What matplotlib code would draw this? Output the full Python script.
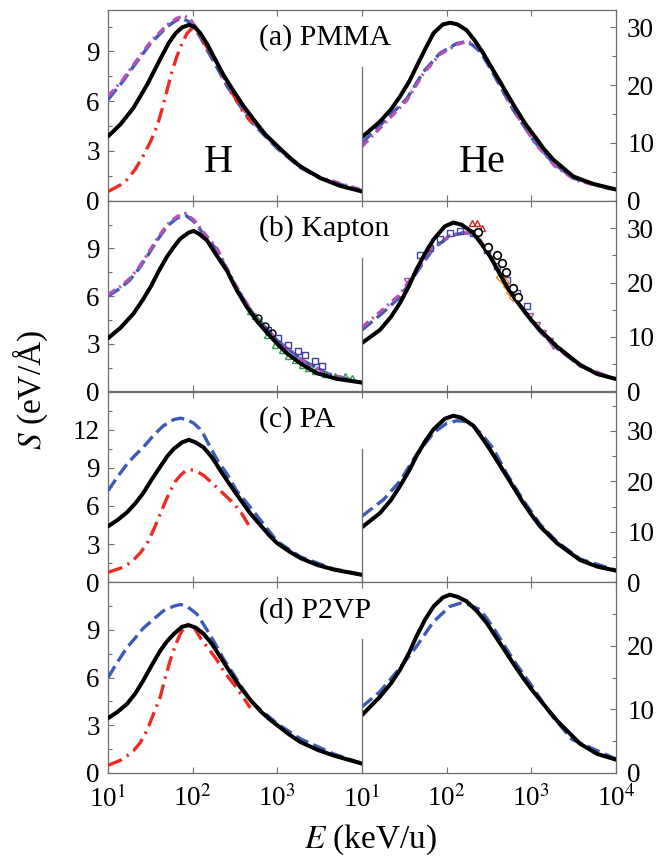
import matplotlib
matplotlib.use("Agg")
import matplotlib.pyplot as plt
from matplotlib.ticker import MultipleLocator, FixedLocator, NullFormatter

plt.rcParams['font.family'] = ['Liberation Serif', 'DejaVu Serif']
plt.rcParams['mathtext.fontset'] = 'stix'

# ---------------- data ----------------
# (a) PMMA, H
aH_black_E = [10, 14, 20, 29, 41, 52, 63, 75, 90, 105, 123, 150, 177, 230, 305, 400, 525, 720, 1000, 1400, 1870, 3220, 5500, 10000]
aH_black_S = [3.88, 4.6, 5.6, 7.0, 8.5, 9.5, 10.1, 10.45, 10.6, 10.5, 10.1, 9.4, 8.7, 7.6, 6.6, 5.7, 4.9, 4.0, 3.3, 2.6, 2.07, 1.37, 0.9, 0.56]
aH_blue_E = [10, 15, 20, 32, 50, 65, 75, 90, 103, 125, 148, 200, 255, 400, 525, 1000, 1870, 3220, 10000]
aH_blue_S = [6.1, 7.2, 8.1, 9.5, 10.5, 10.9, 11.0, 10.8, 10.5, 9.8, 9.1, 7.9, 6.9, 5.4, 4.6, 3.15, 2.0, 1.35, 0.6]
aH_mag_E = [10, 15, 20, 32, 50, 65, 80, 95, 110, 130, 148, 200, 255, 400, 525, 1000, 1870, 3220, 10000]
aH_mag_S = [6.3, 7.3, 8.2, 9.6, 10.6, 11.0, 11.15, 10.9, 10.4, 9.8, 9.3, 8.1, 7.0, 5.5, 4.7, 3.2, 2.05, 1.4, 0.65]
aH_red_E = [10, 14, 17, 21, 26, 32, 38, 44, 50, 57, 65, 75, 86, 98, 110, 123, 150, 194, 240, 279, 400, 500]
aH_red_S = [0.56, 0.95, 1.3, 1.9, 2.7, 3.6, 4.5, 5.6, 6.7, 7.8, 8.7, 9.5, 10.1, 10.4, 10.3, 9.9, 9.2, 8.3, 7.4, 6.7, 5.3, 4.7]

# (a) PMMA, He
aHe_black_E = [10, 16.3, 22, 28, 36, 44, 56, 70, 90, 110, 135, 172, 215, 271, 340, 427, 540, 671, 850, 1100, 1400, 1820, 3130, 5400, 10000]
aHe_black_S = [11.0, 13.7, 15.8, 18.0, 20.6, 23.2, 26.3, 29.0, 30.5, 30.8, 30.5, 29.5, 27.7, 25.5, 23.0, 20.6, 18.0, 15.7, 13.3, 11.1, 9.0, 7.1, 4.2, 2.9, 1.95]
aHe_blue_E = [10, 21, 34, 53, 83, 131, 165, 200, 248, 310, 390, 612, 1057, 1820, 3130, 10000]
aHe_blue_S = [10.0, 14.6, 17.7, 22.3, 25.5, 27.2, 27.5, 27.0, 25.8, 23.5, 20.9, 15.7, 10.5, 6.5, 3.9, 1.9]
aHe_mag_E = [10, 21, 34, 53, 83, 131, 175, 220, 270, 330, 420, 650, 1100, 1900, 3300, 10000]
aHe_mag_S = [9.4, 14.2, 17.4, 22.0, 25.3, 27.0, 27.6, 27.0, 25.6, 23.3, 20.5, 15.2, 10.0, 6.0, 3.6, 1.8]

# (b) Kapton, H
bH_black_E = [10, 14, 20, 26, 32, 40, 50, 60, 71, 90, 103, 120, 148, 190, 254, 330, 438, 580, 755, 1000, 1300, 1900, 2940, 5000, 10000]
bH_black_S = [3.35, 4.0, 4.9, 5.8, 6.6, 7.6, 8.5, 9.1, 9.6, 10.0, 10.1, 9.9, 9.5, 8.6, 7.6, 6.4, 5.3, 4.4, 3.7, 3.0, 2.4, 1.75, 1.15, 0.8, 0.56]
bH_blue_E = [10, 14, 18, 23, 29, 38, 50, 65, 82, 103, 135, 194, 305, 500, 1000, 2000, 4000, 10000]
bH_blue_S = [6.0, 6.5, 7.0, 7.7, 8.5, 9.5, 10.4, 10.9, 11.1, 10.7, 9.9, 8.9, 6.8, 5.0, 3.2, 1.95, 1.1, 0.55]
bH_mag_S = [6.1, 6.6, 7.1, 7.8, 8.6, 9.6, 10.5, 11.0, 11.2, 10.8, 10.0, 9.0, 6.9, 5.0, 3.2, 1.95, 1.1, 0.55]
bH_tri_E = [475, 545, 624, 748, 938, 1125, 1349, 1618, 1941, 2325, 2787, 3656, 4797, 6295, 7550]
bH_tri_S = [5.04, 4.73, 4.41, 3.58, 2.95, 2.64, 2.22, 2.0, 1.69, 1.49, 1.27, 1.07, 0.96, 0.96, 0.86]
bH_sq_E = [782, 1026, 1349, 1771, 2123, 2787, 3340]
bH_sq_S = [3.89, 3.37, 2.95, 2.53, 2.32, 1.9, 1.59]
bH_circ_E = [597, 715, 857]
bH_circ_S = [4.62, 4.1, 3.68]

# (b) Kapton, He
bHe_black_E = [10, 16.3, 22, 28, 36, 44, 56, 70, 95, 120, 150, 207, 260, 325, 410, 512, 650, 805, 1000, 1266, 1990, 3760, 6000, 10000]
bHe_black_S = [8.9, 11.3, 13.7, 16.2, 19.4, 22.4, 25.4, 27.9, 30.3, 31.0, 30.6, 29.1, 27.0, 24.8, 22.0, 19.3, 16.9, 15.0, 13.1, 11.3, 8.3, 4.9, 3.2, 2.3]
bHe_blue_E = [10, 16.3, 28, 44, 70, 109, 157, 210, 248, 320, 400, 512, 805, 1266, 1990, 3760, 10000]
bHe_blue_S = [11.3, 14.0, 17.3, 21.8, 26.3, 28.5, 29.1, 28.6, 27.6, 25.0, 22.5, 19.2, 14.8, 11.0, 8.0, 4.7, 2.2]
bHe_mag_S = [11.8, 14.6, 17.8, 22.2, 26.5, 28.6, 29.2, 28.8, 27.8, 25.2, 22.6, 19.3, 14.8, 11.0, 8.0, 4.7, 2.2]
bHe_sq_E = [48.4, 63.5, 83.4, 109, 144, 206, 297, 389, 511, 671, 881]
bHe_sq_S = [25.1, 26.3, 27.9, 29.1, 29.4, 29.1, 26.0, 23.0, 20.5, 18.1, 15.6]
bHe_circ_E = [237, 310, 389, 446, 502, 612, 702]
bHe_circ_S = [29.3, 26.6, 25.1, 23.6, 22.0, 19.0, 17.4]
bHe_orange_E = [427, 470, 511, 560, 612]
bHe_orange_S = [21.1, 20.2, 19.3, 18.3, 17.4]
bHe_purple_E = [33.7, 964, 1156, 1387, 1662, 1820]
bHe_purple_S = [20.2, 13.8, 12.25, 10.7, 9.2, 8.3]
bHe_red_E = [200, 226, 260]
bHe_red_S = [31.0, 30.9, 30.0]

# (c) PA, H
cH_black_E = [10, 13, 16.8, 21, 26, 33, 41.5, 50, 60, 75, 90, 108, 135, 170, 212, 280, 366, 480, 630, 800, 1000, 1400, 1870, 3000, 4620, 10000]
cH_black_S = [4.4, 4.9, 5.5, 6.2, 7.0, 8.1, 9.1, 9.9, 10.5, 11.0, 11.2, 11.0, 10.6, 9.8, 8.8, 7.6, 6.5, 5.4, 4.5, 3.7, 3.06, 2.4, 1.9, 1.35, 1.0, 0.58]
cH_blue_E = [10, 13, 16.8, 21, 26, 35, 45, 60, 72, 85, 103, 120, 135, 162, 200, 255, 330, 440, 630, 1000, 1870, 4620, 10000]
cH_blue_S = [7.2, 8.3, 9.3, 10.0, 10.6, 11.6, 12.3, 12.8, 12.9, 12.8, 12.5, 12.1, 11.6, 10.6, 9.5, 8.5, 7.2, 6.2, 4.9, 3.2, 2.0, 1.05, 0.6]
cH_red_E = [10, 14, 17, 20, 24, 29, 35, 41.5, 48, 54.5, 62, 71.5, 82, 94, 110, 135, 170, 212, 305, 380, 458]
cH_red_S = [0.78, 1.1, 1.4, 1.75, 2.3, 3.06, 4.2, 5.4, 6.4, 7.2, 7.9, 8.4, 8.75, 8.86, 8.75, 8.4, 7.8, 7.2, 6.2, 5.4, 4.5]

# (c) PA, He
cHe_black_E = [10, 16.3, 22, 28, 36, 44, 56, 70, 95, 120, 150, 207, 260, 325, 410, 512, 650, 805, 1000, 1266, 1990, 3760, 6000, 10000]
cHe_black_S = [10.9, 13.7, 16.3, 19.0, 22.1, 25.0, 28.0, 30.3, 32.4, 33.0, 32.6, 31.0, 28.7, 26.3, 23.6, 21.0, 18.2, 15.7, 13.4, 11.1, 7.8, 4.4, 3.1, 2.3]
cHe_blue_E = [10, 18, 28, 44, 70, 100, 131, 160, 207, 270, 355, 512, 805, 1266, 1990, 3760, 10000]
cHe_blue_S = [13.1, 16.4, 20.0, 25.3, 29.6, 31.5, 32.0, 31.9, 31.0, 29.0, 26.5, 21.5, 16.2, 11.5, 8.1, 4.6, 2.4]

# (d) P2VP, H
dH_black_E = [10, 13, 16.8, 21, 26, 33, 41.5, 50, 60, 75, 90, 108, 135, 170, 212, 280, 366, 480, 630, 800, 1000, 1400, 1870, 3000, 4620, 10000]
dH_black_S = [3.45, 3.85, 4.35, 5.0, 5.8, 6.8, 7.7, 8.3, 8.75, 9.2, 9.3, 9.15, 8.75, 8.1, 7.3, 6.3, 5.4, 4.6, 3.9, 3.4, 3.0, 2.4, 1.95, 1.45, 1.1, 0.59]
dH_blue_E = [10, 13, 16.8, 21, 26, 35, 45, 60, 72, 85, 112, 140, 177, 230, 305, 400, 525, 1000, 1870, 4620, 10000]
dH_blue_S = [6.0, 7.0, 7.9, 8.5, 9.1, 9.7, 10.2, 10.5, 10.6, 10.5, 10.0, 9.2, 8.3, 7.2, 6.2, 5.2, 4.35, 3.1, 2.15, 1.2, 0.6]
dH_red_E = [10, 14, 17, 20, 24, 29, 35, 41.5, 48, 54.5, 62, 71.5, 80, 90, 100, 123, 155, 194, 240, 305, 390, 480]
dH_red_S = [0.48, 0.8, 1.1, 1.4, 1.9, 2.7, 3.8, 4.8, 6.1, 7.1, 8.0, 8.75, 9.2, 9.4, 9.3, 8.5, 7.8, 7.1, 6.3, 5.6, 4.8, 4.1]

# (d) P2VP, He
dHe_black_E = [10, 16.3, 22, 28, 36, 44, 56, 70, 90, 109, 135, 172, 230, 297, 390, 512, 650, 805, 1000, 1266, 1990, 3760, 6000, 10000]
dHe_black_S = [9.1, 12.0, 14.1, 16.2, 18.9, 21.5, 24.2, 26.2, 27.6, 28.05, 27.7, 27.0, 25.4, 23.6, 21.2, 18.8, 16.7, 14.9, 13.2, 11.5, 8.3, 4.6, 3.0, 2.1]
dHe_blue_E = [10, 16.3, 28, 44, 70, 109, 145, 180, 248, 310, 390, 612, 964, 1660, 3000, 10000]
dHe_blue_S = [10.4, 12.8, 16.5, 19.9, 23.8, 26.2, 26.7, 26.5, 25.7, 24.0, 22.0, 17.8, 14.1, 9.4, 5.3, 2.2]

panel_labels = ['(a) PMMA', '(b) Kapton', '(c) PA', '(d) P2VP']
left_ylim = [11.5, 12.0, 15.0, 12.0]
right_ylim = [33.0, 35.0, 37.8, 30.0]
left_yticks = [[0, 3, 6, 9], [0, 3, 6, 9], [0, 3, 6, 9, 12], [0, 3, 6, 9]]
right_yticks = [[0, 10, 20, 30], [0, 10, 20, 30], [0, 10, 20, 30], [0, 10, 20]]

# ---------------- styles ----------------
BLACK = dict(color='black', lw=2.9, zorder=5, solid_capstyle='round', solid_joinstyle='round')
BLUE = dict(color='#3d5bb5', lw=2.4, dashes=(4, 1.7), zorder=3)
MAG = dict(color='#b552b5', lw=2.4, dashes=(2.6, 1.4, 0.6, 1.4), zorder=3)
RED = dict(color='#ee2a24', lw=2.4, dashes=(4.5, 1.8, 0.7, 1.8), zorder=4)
SPINE = '#6e6e6e'

W, H = 672, 858
fig = plt.figure(figsize=(W / 100, H / 100), dpi=100)

top_px, bot_px = 10, 773
ph = (bot_px - top_px) / 4
x0L, x0R, pw = 108 / W, 362 / W, 254 / W

axes = []
for i in range(4):
    b = 1 - (top_px + (i + 1) * ph) / H
    axL = fig.add_axes([x0L, b, pw, ph / H])
    axR = fig.add_axes([x0R, b, pw, ph / H])
    axes.append((axL, axR))
    for ax in (axL, axR):
        ax.set_xscale('log')
        ax.set_xlim(10, 1e4)
        for s in ax.spines.values():
            s.set_color(SPINE)
            s.set_linewidth(0.9)
        ax.tick_params(which='both', direction='in', top=True, colors=SPINE,
                       labelcolor='black', labelsize=19.5, width=0.8)
        ax.tick_params(which='major', length=4.5)
        ax.tick_params(which='minor', length=2.8)
        ax.xaxis.set_minor_formatter(NullFormatter())
    axL.spines['right'].set_visible(False)
    axR.spines['left'].set_visible(False)
    axL.tick_params(which='both', right=False, left=True, pad=6)
    axR.tick_params(which='both', left=False, right=True, labelleft=False,
                    labelright=True, pad=8)
    axR.axvline(10, ymin=0, ymax=0.70, color=SPINE, lw=0.9, clip_on=False, zorder=6)

    axL.set_ylim(0, left_ylim[i])
    axR.set_ylim(0, right_ylim[i])
    axL.yaxis.set_major_locator(FixedLocator(left_yticks[i]))
    axL.yaxis.set_minor_locator(MultipleLocator(1.5))
    axR.yaxis.set_major_locator(FixedLocator(right_yticks[i]))
    axR.yaxis.set_minor_locator(MultipleLocator(5))

    axL.xaxis.set_major_locator(FixedLocator([10, 100, 1000]))
    axR.xaxis.set_major_locator(FixedLocator([10, 100, 1000, 10000]))
    if i == 3:
        axL.set_xticklabels(['10$^1$', '10$^2$', '10$^3$'])
        axR.set_xticklabels(['10$^1$', '10$^2$', '10$^3$', '10$^4$'])
        axL.tick_params(axis='x', pad=9)
        axR.tick_params(axis='x', pad=9)
    else:
        axL.set_xticklabels([])
        axR.set_xticklabels([])

    fig.text(259 / W, 1 - (top_px + i * ph + 28) / H, panel_labels[i],
             fontsize=21.5, ha='left', va='center')

# (a)
axL, axR = axes[0]
axL.plot(aH_blue_E, aH_blue_S, **BLUE)
axL.plot(aH_mag_E, aH_mag_S, **MAG)
axL.plot(aH_red_E, aH_red_S, **RED)
axL.plot(aH_black_E, aH_black_S, **BLACK)
axR.plot(aHe_blue_E, aHe_blue_S, **BLUE)
axR.plot(aHe_mag_E, aHe_mag_S, **MAG)
axR.plot(aHe_black_E, aHe_black_S, **BLACK)

# (b)
axL, axR = axes[1]
axL.plot(bH_blue_E, bH_blue_S, **BLUE)
axL.plot(bH_blue_E, bH_mag_S, **MAG)
axL.plot(bH_tri_E, bH_tri_S, '^', ms=5, mfc='none', mec='#2e9a48', mew=1, zorder=4)
axL.plot(bH_sq_E, bH_sq_S, 's', ms=5, mfc='none', mec='#3b3b9e', mew=1, zorder=4)
axL.plot(bH_circ_E, bH_circ_S, 'o', ms=5, mfc='none', mec='black', mew=1, zorder=4)
axL.plot(bH_black_E, bH_black_S, **BLACK)
axR.plot(bHe_blue_E, bHe_blue_S, **BLUE)
axR.plot(bHe_blue_E, bHe_mag_S, **MAG)
axR.plot(bHe_sq_E, bHe_sq_S, 's', ms=5, mfc='none', mec='#3b4aa8', mew=1, zorder=4)
axR.plot(bHe_purple_E, bHe_purple_S, 'v', ms=5, mfc='none', mec='#a452a8', mew=1, zorder=4)
axR.plot(bHe_orange_E, bHe_orange_S, 'D', ms=4, mfc='none', mec='#f08a24', mew=1, zorder=4)
axR.plot(bHe_red_E, bHe_red_S, '^', ms=4, mfc='none', mec='#cc2222', mew=1, zorder=4)
axR.plot(bHe_black_E, bHe_black_S, **BLACK)
axR.plot(bHe_circ_E, bHe_circ_S, 'o', ms=5.5, mfc='white', mec='black', mew=1.2, zorder=6)

# (c)
axL, axR = axes[2]
axL.plot(cH_blue_E, cH_blue_S, **BLUE)
axL.plot(cH_red_E, cH_red_S, **RED)
axL.plot(cH_black_E, cH_black_S, **BLACK)
axR.plot(cHe_blue_E, cHe_blue_S, **BLUE)
axR.plot(cHe_black_E, cHe_black_S, **BLACK)

# (d)
axL, axR = axes[3]
axL.plot(dH_blue_E, dH_blue_S, **BLUE)
axL.plot(dH_red_E, dH_red_S, **RED)
axL.plot(dH_black_E, dH_black_S, **BLACK)
axR.plot(dHe_blue_E, dHe_blue_S, **BLUE)
axR.plot(dHe_black_E, dHe_black_S, **BLACK)

fig.text(218 / W, 1 - 163 / H, 'H', fontsize=29, ha='center', va='center')
fig.text(482 / W, 1 - 162 / H, 'He', fontsize=29, ha='center', va='center')

fig.text(371 / W, 1 - 840 / H, '$E$ (keV/u)', fontsize=24, ha='center', va='center')
fig.text(30 / W, 1 - 390 / H, '$S$ (eV/Å)', fontsize=24, ha='center', va='center',
         rotation=90)

fig.savefig('out.png', dpi=100)
